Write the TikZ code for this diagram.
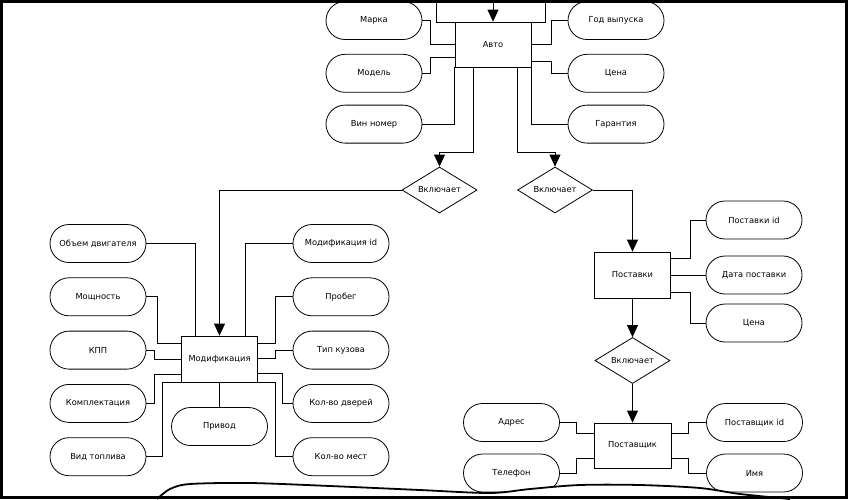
\documentclass[tikz,border=0pt]{standalone}
\usepackage{fontspec}
\setmainfont{DejaVu Sans}
\usetikzlibrary{positioning, shapes.geometric, arrows.meta}

\tikzset{
  attr/.style={draw, rectangle, rounded corners=19pt, minimum width=96pt,
    minimum height=38pt, line width=0.8pt, font=\fontsize{8.3}{9}\selectfont},
  ent/.style={draw, rectangle, minimum width=76pt, minimum height=46pt,
    line width=0.8pt, font=\fontsize{8.3}{9}\selectfont},
  rel/.style={draw, diamond, aspect=1.6, minimum width=75pt, minimum height=46pt,
    inner sep=0pt, line width=0.8pt, font=\fontsize{8.3}{9}\selectfont},
  link/.style={line width=0.8pt},
  arr/.style={link, -{Triangle[width=11pt,length=12pt]}}
}

\begin{document}
\begin{tikzpicture}[x=1pt, y=-1pt]
  \useasboundingbox (0,0) rectangle (848,499);
  \clip (0,0) rectangle (848,499);

  % Авто
  \node[ent, minimum width=109pt, minimum height=42pt] (top) at (490.5,1) {};
  \coordinate (topin) at (493,0);
  \node[ent, minimum height=45pt] (avto) at (493,44.5) {Авто};
  \node[attr] (marka) at (374,20.5) {Марка};
  \node[attr, below=14pt of marka] (model) {Модель};
  \node[attr, below=12pt of model] (vin) {Вин номер};
  \node[attr] (god) at (616,20.5) {Год выпуска};
  \node[attr, below=14pt of god] (cena1) {Цена};
  \node[attr, below=12pt of cena1] (garant) {Гарантия};

  \draw[arr] (topin) -- (avto.north);
  \draw[link] (marka.east) -- ++(8,0) |- (avto.west);
  \draw[link] (model.east) -- ++(8,0) |- ([yshift=-13pt]avto.west);
  \draw[link] (vin.east) -| (avto.south west);
  \draw[link] (god.west) -- ++(-16,0) |- (avto.east);
  \draw[link] (cena1.west) -- ++(-16,0) |- ([yshift=-17pt]avto.east);
  \draw[link] (garant.west) -| (avto.south east);

  % связи
  \node[rel] (vkl1) at (439.5,190) {Включает};
  \node[rel] (vkl2) at (555,190) {Включает};
  \draw[arr] ([xshift=-20pt]avto.south) -- ++(0,85) -| (vkl1.north);
  \draw[arr] ([xshift=24pt]avto.south) -- ++(0,85) -| (vkl2.north);

  % Модификация
  \node[ent] (mod) at (219.5,359) {Модификация};
  \node[attr] (obem) at (98,243.5) {Объем двигателя};
  \node[attr, below=14.5pt of obem] (mosch) {Мощность};
  \node[attr, below=14.5pt of mosch] (kpp) {КПП};
  \node[attr, below=14.5pt of kpp] (kompl) {Комплектация};
  \node[attr, below=14.5pt of kompl] (vid) {Вид топлива};
  \node[attr] (modid) at (341,243.5) {Модификация id};
  \node[attr, below=14.5pt of modid] (probeg) {Пробег};
  \node[attr, below=14.5pt of probeg] (kuzov) {Тип кузова};
  \node[attr, below=14.5pt of kuzov] (dveri) {Кол-во дверей};
  \node[attr, below=14.5pt of dveri] (mest) {Кол-во мест};
  \node[attr] (privod) at (219.5,426.5) {Привод};

  \draw[arr] (vkl1.west) -| (mod.north);
  \draw[link] (obem.east) -| ([xshift=14pt]mod.north west);
  \draw[link] (mosch.east) -- ++(11,0) |- ([yshift=16pt]mod.west);
  \draw[link] (kpp.east) -- ++(8,0) |- (mod.west);
  \draw[link] (kompl.east) -- ++(8,0) |- ([yshift=-15pt]mod.west);
  \draw[link] (vid.east) -- ++(16,0) |- (mod.south west);
  \draw[link] (mod.south) -- (privod.north);
  \draw[link] (modid.west) -| ([xshift=-13pt]mod.north east);
  \draw[link] (probeg.west) -- ++(-17,0) |- ([yshift=16pt]mod.east);
  \draw[link] (kuzov.west) -- ++(-17,0) |- ([yshift=1pt]mod.east);
  \draw[link] (dveri.west) -- ++(-10,0) |- ([yshift=-14pt]mod.east);
  \draw[link] (mest.west) -- ++(-17,0) |- (mod.south east);

  % Поставки
  \node[ent] (post) at (632.5,275) {Поставки};
  \node[attr] (postid) at (754,220) {Поставки id};
  \node[attr] (data) at (754,275) {Дата поставки};
  \node[attr] (cena2) at (754,323) {Цена};
  \node[rel] (vkl3) at (632.5,360.5) {Включает};

  \draw[arr] (vkl2.east) -| (post.north);
  \draw[link] ([yshift=17pt]post.east) -- ++(19,0) |- (postid.west);
  \draw[link] (post.east) -- (data.west);
  \draw[link] ([yshift=-17pt]post.east) -- ++(19,0) |- (cena2.west);
  \draw[arr] (post.south) -- (vkl3.north);

  % Поставщик
  \node[ent, minimum width=77pt, minimum height=45pt] (postav) at (632.5,445.5) {Поставщик};
  \node[attr] (adres) at (511.5,422.5) {Адрес};
  \node[attr] (tel) at (511.5,473) {Телефон};
  \node[attr] (pid) at (754.5,422.5) {Поставщик id};
  \node[attr] (imya) at (754.5,473) {Имя};

  \draw[arr] (vkl3.south) -- (postav.north);
  \draw[link] (adres.east) -- ++(16,0) |- ([yshift=12pt]postav.west);
  \draw[link] (tel.east) -- ++(16,0) |- ([yshift=-13pt]postav.west);
  \draw[link] ([yshift=12pt]postav.east) -- ++(17,0) |- (pid.west);
  \draw[link] ([yshift=-13pt]postav.east) -- ++(17,0) |- (imya.west);

  % рамка и обрыв
  \fill[white] plot[smooth] coordinates {(157,499) (170,489) (190,484) (250,483)
    (330,486) (420,490) (490,493) (530,489) (580,485) (640,485) (700,488)
    (740,494) (790,499)} -- cycle;
  \draw[line width=1.8pt] plot[smooth] coordinates {(157,499) (170,489) (190,484)
    (250,483) (330,486) (420,490) (490,493) (530,489) (580,485) (640,485)
    (700,488) (740,494) (790,499)};
  \draw[line width=3pt] (1.5,1.5) rectangle (846.5,497.5);
\end{tikzpicture}
\end{document}
